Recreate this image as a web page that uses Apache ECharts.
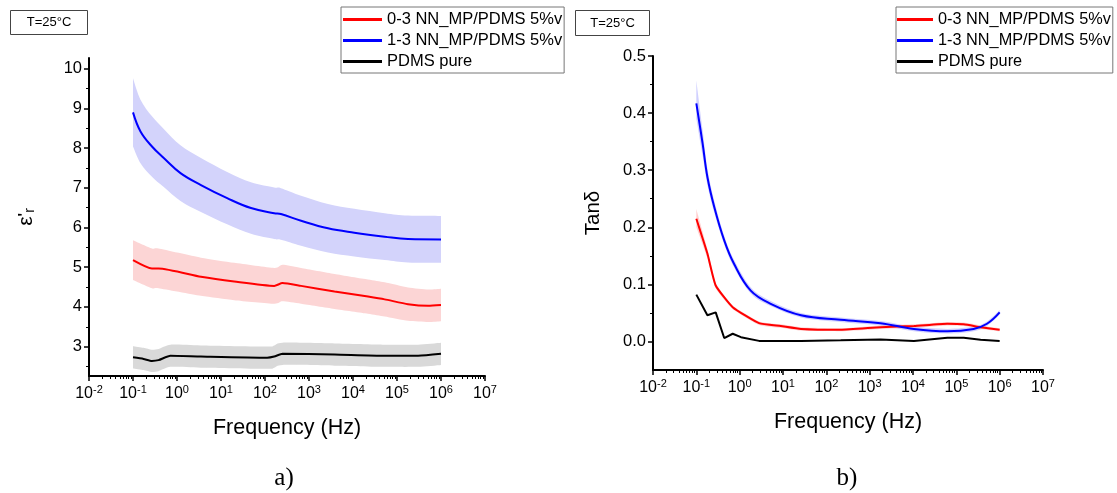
<!DOCTYPE html>
<html><head><meta charset="utf-8">
<script src="https://cdn.jsdelivr.net/npm/echarts@6/dist/echarts.min.js"></script>
<style>html,body{margin:0;padding:0;background:#fff;}#c{width:1117px;height:493px;}</style>
</head><body><div id="c"></div><script>
// ---------- (a) relative permittivity ----------
const freqA_red   = [0.1, 0.27, 0.38, 3.5, 20, 162, 250, 660, 3800, 21900, 52500, 178000, 513000, 1000000];
const epsA_red    = [5.18, 4.97, 4.97, 4.76, 4.64, 4.53, 4.60, 4.53, 4.39, 4.26, 4.19, 4.07, 4.03, 4.05];
const epsA_redHi  = [5.68, 5.47, 5.47, 5.24, 5.11, 4.98, 5.06, 4.98, 4.83, 4.69, 4.62, 4.49, 4.44, 4.46];
const epsA_redLo  = [4.68, 4.47, 4.47, 4.28, 4.17, 4.08, 4.14, 4.08, 3.95, 3.83, 3.76, 3.65, 3.62, 3.64];

const freqA_blue  = [0.1, 0.148, 0.27, 0.5, 1.2, 3.5, 13.8, 48, 162, 230, 660, 2700, 10700, 52500, 178000, 1000000];
const epsA_blue   = [8.90, 8.42, 8.04, 7.75, 7.37, 7.07, 6.74, 6.49, 6.36, 6.34, 6.17, 5.98, 5.87, 5.77, 5.71, 5.70];
const epsA_blueHi = [9.76, 9.22, 8.80, 8.48, 8.07, 7.75, 7.40, 7.14, 7.01, 6.99, 6.80, 6.59, 6.47, 6.36, 6.30, 6.29];
const epsA_blueLo = [8.04, 7.62, 7.28, 7.02, 6.67, 6.39, 6.08, 5.84, 5.71, 5.69, 5.54, 5.37, 5.27, 5.18, 5.12, 5.11];

const freqA_black  = [0.1, 0.174, 0.27, 0.38, 0.71, 3.5, 112, 162, 250, 3800, 52500, 302000, 1000000];
const epsA_black   = [2.73, 2.69, 2.64, 2.66, 2.77, 2.75, 2.72, 2.75, 2.82, 2.80, 2.77, 2.77, 2.82];
const epsA_blackHi = [3.01, 2.97, 2.92, 2.94, 3.05, 3.03, 3.00, 3.03, 3.10, 3.08, 3.05, 3.05, 3.10];
const epsA_blackLo = [2.45, 2.41, 2.36, 2.38, 2.49, 2.47, 2.44, 2.47, 2.54, 2.52, 2.49, 2.49, 2.54];

// ---------- (b) loss tangent ----------
const freqB_red  = [0.1, 0.18, 0.28, 0.69, 2.8, 8.9, 26, 214, 1780, 10500, 62000, 148000, 363000, 1000000];
const tanB_red   = [0.215, 0.154, 0.098, 0.060, 0.032, 0.027, 0.022, 0.0205, 0.025, 0.027, 0.031, 0.030, 0.025, 0.0205];
const tanB_redHi = [0.232, 0.162, 0.103, 0.063, 0.035, 0.030, 0.025, 0.023, 0.028, 0.030, 0.034, 0.033, 0.028, 0.023];
const tanB_redLo = [0.200, 0.146, 0.093, 0.057, 0.029, 0.024, 0.019, 0.018, 0.022, 0.024, 0.028, 0.027, 0.022, 0.018];

const freqB_blue  = [0.1, 0.14, 0.18, 0.26, 0.44, 0.74, 1.8, 5.2, 26, 214, 1780, 10500, 62000, 250000, 510000, 1000000];
const tanB_blue   = [0.417, 0.346, 0.288, 0.235, 0.177, 0.136, 0.089, 0.066, 0.046, 0.038, 0.032, 0.022, 0.018, 0.022, 0.031, 0.051];
const tanB_blueHi = [0.457, 0.370, 0.303, 0.246, 0.185, 0.143, 0.095, 0.071, 0.050, 0.042, 0.036, 0.026, 0.022, 0.026, 0.035, 0.055];
const tanB_blueLo = [0.390, 0.325, 0.274, 0.225, 0.170, 0.130, 0.084, 0.062, 0.042, 0.034, 0.028, 0.018, 0.014, 0.018, 0.027, 0.047];

const freqB_black = [0.1, 0.18, 0.28, 0.44, 0.69, 1.07, 2.8, 26, 214, 1780, 10500, 62000, 148000, 363000, 1000000];
const tanB_black  = [0.082, 0.046, 0.051, 0.006, 0.0135, 0.0075, 0.001, 0.001, 0.002, 0.0035, 0.001, 0.0065, 0.0065, 0.003, 0.001];

// ---------- axes / labels ----------
const seriesNames = ['0-3 NN_MP/PDMS 5%v', '1-3 NN_MP/PDMS 5%v', 'PDMS pure'];
const decadeTicks = [0.01, 0.1, 1, 10, 100, 1000, 10000, 100000, 1000000, 10000000];
const minorFreqTicks = [];
for (let e = -2; e < 7; e++) for (let k = 2; k <= 9; k++) minorFreqTicks.push(+(k * Math.pow(10, e)).toPrecision(3));
const epsTicks = [3, 4, 5, 6, 7, 8, 9, 10];
const epsMinorTicks = [2.5, 3.5, 4.5, 5.5, 6.5, 7.5, 8.5, 9.5];
const tanTicks = [0, 0.1, 0.2, 0.3, 0.4, 0.5];
const tanMinorTicks = [0.05, 0.15, 0.25, 0.35, 0.45];

const FONT = '"Liberation Sans", Arial, sans-serif';
const RED = '#ff0000', BLUE = '#0000ff', BLACK = '#000000';

function pairs(f, v) { return f.map((x, i) => [x, v[i]]); }
function lineSeries(name, xi, yi, f, v, color, smooth) {
  return { type: 'line', name, xAxisIndex: xi, yAxisIndex: yi, data: pairs(f, v), symbol: 'none',
    smooth: smooth, lineStyle: { color, width: 2 }, itemStyle: { color }, z: 5, silent: true };
}
// Catmull-Rom path through pixel points
function crPath(pts, tension) {
  let d = '';
  for (let i = 0; i < pts.length - 1; i++) {
    const p0 = pts[Math.max(i - 1, 0)], p1 = pts[i], p2 = pts[i + 1], p3 = pts[Math.min(i + 2, pts.length - 1)];
    const c1 = [p1[0] + (p2[0] - p0[0]) * tension / 6, p1[1] + (p2[1] - p0[1]) * tension / 6];
    const c2 = [p2[0] - (p3[0] - p1[0]) * tension / 6, p2[1] - (p3[1] - p1[1]) * tension / 6];
    d += ' C' + c1[0].toFixed(2) + ',' + c1[1].toFixed(2) + ' ' + c2[0].toFixed(2) + ',' + c2[1].toFixed(2) + ' ' + p2[0].toFixed(2) + ',' + p2[1].toFixed(2);
  }
  return d;
}
function band(id, xi, yi, f, lo, hi, color, tension) {
  return {
    type: 'custom', name: id, xAxisIndex: xi, yAxisIndex: yi, silent: true, z: 2,
    data: f.map((x, i) => [x, lo[i], hi[i]]), encode: { x: 0, y: [1, 2] },
    renderItem: function (params, api) {
      if (params.dataIndex !== 0) return null;
      const up = f.map((x, i) => api.coord([x, hi[i]]));
      const dn = f.map((x, i) => api.coord([x, lo[i]])).reverse();
      let d = 'M' + up[0][0].toFixed(2) + ',' + up[0][1].toFixed(2) + crPath(up, tension);
      d += ' L' + dn[0][0].toFixed(2) + ',' + dn[0][1].toFixed(2) + crPath(dn, tension) + ' Z';
      return { type: 'path', shape: { pathData: d }, style: { fill: color, stroke: null } };
    }
  };
}
function xAxes(gi) {
  return [{
    type: 'log', logBase: 10, gridIndex: gi, min: 0.01, max: 1e7, position: 'bottom',
    axisLine: { show: true, onZero: false, lineStyle: { color: '#000', width: 2 } },
    axisTick: { show: true, customValues: decadeTicks, length: 5, lineStyle: { color: '#000', width: 1.5 } },
    axisLabel: { show: true, customValues: decadeTicks, margin: 8,
      formatter: v => '{b|10}{s|' + Math.round(Math.log10(v)) + '}',
      rich: { b: { fontSize: 16, fontFamily: FONT, color: '#000', lineHeight: 19 },
              s: { fontSize: 11, fontFamily: FONT, color: '#000', verticalAlign: 'top', lineHeight: 12 } } },
    splitLine: { show: false }, minorSplitLine: { show: false },
    name: 'Frequency (Hz)', nameLocation: 'middle', nameGap: 41,
    nameTextStyle: { fontSize: 21.5, fontFamily: FONT, color: '#000' }
  }, {
    type: 'log', logBase: 10, gridIndex: gi, min: 0.01, max: 1e7, position: 'bottom',
    axisLine: { show: false, onZero: false }, axisLabel: { show: false }, splitLine: { show: false },
    axisTick: { show: true, customValues: minorFreqTicks, length: 3, lineStyle: { color: '#000', width: 1 } }
  }];
}
function yAxes(gi, min, max, ticks, minor, fmt, nameCfg) {
  return [Object.assign({
    type: 'value', gridIndex: gi, min, max, position: 'left',
    axisLine: { show: true, onZero: false, lineStyle: { color: '#000', width: 2 } },
    axisTick: { show: true, customValues: ticks, length: 5, lineStyle: { color: '#000', width: 1.5 } },
    axisLabel: { show: true, customValues: ticks, formatter: fmt, fontSize: 16.5, fontFamily: FONT, color: '#000', margin: 7 },
    splitLine: { show: false }
  }, nameCfg), {
    type: 'value', gridIndex: gi, min, max, position: 'left',
    axisLine: { show: false, onZero: false }, axisLabel: { show: false }, splitLine: { show: false },
    axisTick: { show: true, customValues: minor, length: 3, lineStyle: { color: '#000', width: 1 } }
  }];
}

const legendBase = {
  orient: 'vertical', top: 7, icon: 'rect', itemHeight: 3, itemGap: 4,
  borderColor: '#777', borderWidth: 1, borderRadius: 0, backgroundColor: '#fff',
  data: seriesNames, selectedMode: false
};

const chart = echarts.init(document.getElementById('c'), null, { renderer: 'canvas' });
chart.setOption({
  backgroundColor: '#fff',
  animation: false,
  grid: [
    { left: 89, top: 58, width: 396, height: 318 },
    { left: 653, top: 56, width: 390, height: 314 }
  ],
  xAxis: [...xAxes(0), ...xAxes(1)],
  yAxis: [
    ...yAxes(0, 2.26, 10.27, epsTicks, epsMinorTicks, v => String(Math.round(v)), {
      name: '{e|ε}{p|\'}{r|r}', nameLocation: 'middle', nameGap: 52,
      nameTextStyle: { fontFamily: FONT, color: '#000', rich: {
        e: { fontSize: 21, fontFamily: FONT, color: '#000' },
        p: { fontSize: 15, fontFamily: FONT, color: '#000', verticalAlign: 'top', fontWeight: 'bold' },
        r: { fontSize: 14, fontFamily: FONT, color: '#000', verticalAlign: 'bottom' } } }
    }),
    ...yAxes(1, -0.05, 0.5, tanTicks, tanMinorTicks, v => v.toFixed(1), {
      name: 'Tanδ', nameLocation: 'middle', nameGap: 49,
      nameTextStyle: { fontSize: 20.5, fontFamily: FONT, color: '#000' }
    })
  ],
  legend: [
    Object.assign({}, legendBase, { left: 341, itemWidth: 39, padding: [4, 2, 3, 2],
      textStyle: { fontSize: 16.5, fontFamily: FONT, color: '#000', lineHeight: 17 } }),
    Object.assign({}, legendBase, { left: 896, itemWidth: 36, padding: [4, 2, 3, 1],
      textStyle: { fontSize: 16.3, fontFamily: FONT, color: '#000', lineHeight: 17 } })
  ],
  series: [
    band('bandA_blue', 0, 0, freqA_blue, epsA_blueLo, epsA_blueHi, '#d3d3fb', 1),
    band('bandA_red', 0, 0, freqA_red, epsA_redLo, epsA_redHi, '#fcd5d5', 0.6),
    band('bandA_black', 0, 0, freqA_black, epsA_blackLo, epsA_blackHi, '#d9d9d9', 0.6),
    lineSeries(seriesNames[0], 0, 0, freqA_red, epsA_red, RED, 0.2),
    lineSeries(seriesNames[1], 0, 0, freqA_blue, epsA_blue, BLUE, 0.4),
    lineSeries(seriesNames[2], 0, 0, freqA_black, epsA_black, BLACK, 0.2),
    band('bandB_blue', 2, 2, freqB_blue, tanB_blueLo, tanB_blueHi, 'rgba(150,150,255,0.45)', 1),
    band('bandB_red', 2, 2, freqB_red, tanB_redLo, tanB_redHi, 'rgba(255,150,150,0.45)', 0.5),
    lineSeries(seriesNames[0], 2, 2, freqB_red, tanB_red, RED, 0.15),
    lineSeries(seriesNames[1], 2, 2, freqB_blue, tanB_blue, BLUE, 0.4),
    lineSeries(seriesNames[2], 2, 2, freqB_black, tanB_black, BLACK, false)
  ],
  graphic: [
    { type: 'group', left: 10, top: 10, children: [
      { type: 'rect', shape: { x: 0, y: 0, width: 77, height: 24 }, style: { fill: '#fff', stroke: '#444', lineWidth: 1 } },
      { type: 'text', x: 38.5, y: 12, style: { text: 'T=25°C', font: '13px ' + FONT, fill: '#000', textAlign: 'center', textVerticalAlign: 'middle' } }
    ] },
    { type: 'group', left: 575, top: 10, children: [
      { type: 'rect', shape: { x: 0, y: 0, width: 74, height: 25 }, style: { fill: '#fff', stroke: '#444', lineWidth: 1 } },
      { type: 'text', x: 37, y: 12.5, style: { text: 'T=25°C', font: '13px ' + FONT, fill: '#000', textAlign: 'center', textVerticalAlign: 'middle' } }
    ] },
    { type: 'text', x: 284, y: 478, style: { text: 'a)', font: '25px "Liberation Serif", serif', fill: '#000', textAlign: 'center', textVerticalAlign: 'middle' } },
    { type: 'text', x: 847, y: 478, style: { text: 'b)', font: '25px "Liberation Serif", serif', fill: '#000', textAlign: 'center', textVerticalAlign: 'middle' } }
  ]
});
</script></body></html>
